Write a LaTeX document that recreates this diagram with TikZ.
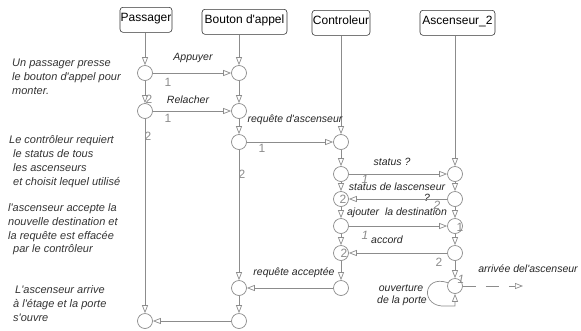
\documentclass[tikz,border=0pt]{standalone}
\usepackage{fontspec}
\setmainfont{Liberation Sans}[Ligatures=TeXOff]
\usetikzlibrary{arrows.meta}
\definecolor{lncol}{HTML}{8C8C8C}
\definecolor{notecol}{HTML}{333333}
\tikzset{
  ln/.style={draw=lncol, line width=0.7pt},
  arr/.style={ln, -{Triangle[open,length=8pt,width=6pt]}},
  ev/.style={circle, draw=lncol, line width=0.7pt, fill=white, minimum size=15pt, inner sep=0pt},
  hdr/.style={draw=black!80, rounded corners=3pt, line width=0.6pt, inner xsep=0pt, inner ysep=1.5pt,
    text height=12.5pt, text depth=9.5pt, font=\fontsize{12}{14}\selectfont, anchor=north},
  msg/.style={font=\fontsize{10.5}{12}\itshape\selectfont, text=black!85, inner sep=0pt},
  note/.style={font=\fontsize{11}{13}\itshape\selectfont, text=notecol, inner sep=0pt, anchor=base west},
  num/.style={font=\fontsize{12}{14}\selectfont, text=lncol, inner sep=0pt},
  inum/.style={font=\fontsize{12}{14}\itshape\selectfont, text=lncol, inner sep=0pt},
}
\begin{document}
\begin{tikzpicture}[x=1pt,y=-1pt]
\useasboundingbox (0,0) rectangle (581,330);
% headers
\node[hdr, minimum width=52pt] (hP) at (146,7) {Passager};
\node[hdr, minimum width=85pt] (hB) at (244.5,9) {Bouton d'appel};
\node[hdr, minimum width=58pt] (hC) at (341,10) {Controleur};
\node[hdr, minimum width=75pt] (hA) at (457.5,10) {Ascenseur\_2};
% events
\node[ev] (p1) at (145,73) {};
\node[ev] (p2) at (145,111) {};
\node[ev] (p3) at (145,321) {};
\node[ev] (b1) at (239,73) {};
\node[ev] (b2) at (239,111) {};
\node[ev] (b3) at (239,142) {};
\node[ev] (b4) at (239,288) {};
\node[ev] (b5) at (239,321) {};
\node[ev] (c1) at (341,142) {};
\node[ev] (c2) at (341,174) {};
\node[ev] (c3) at (341,199) {};
\node[ev] (c4) at (341,226) {};
\node[ev] (c5) at (341,253) {};
\node[ev] (c6) at (341,288) {};
\node[ev] (a1) at (455,174) {};
\node[ev] (a2) at (455,199) {};
\node[ev] (a3) at (455,226) {};
\node[ev] (a4) at (455,253) {};
\node[ev] (a5) at (455,286) {};
\coordinate (ae) at (523,286);
% lifelines
\draw[arr] (hP.south -| p1) -- (p1);
\draw[arr] (p1) -- (p2);
\draw[arr] (p2) -- (p3);
\draw[arr] (hB.south -| b1) -- (b1);
\draw[arr] (b1) -- (b2);
\draw[arr] (b2) -- (b3);
\draw[arr] (b3) -- (b4);
\draw[arr] (b4) -- (b5);
\draw[arr] (hC.south -| c1) -- (c1);
\draw[arr] (c1) -- (c2);
\draw[arr] (c2) -- (c3);
\draw[arr] (c3) -- (c4);
\draw[arr] (c4) -- (c5);
\draw[arr] (c5) -- (c6);
\draw[arr] (hA.south -| a1) -- (a1);
\draw[arr] (a1) -- (a2);
\draw[arr] (a2) -- (a3);
\draw[arr] (a3) -- (a4);
\draw[arr] (a4) -- (a5);
% messages
\draw[arr] (p1) -- (b1);
\draw[arr] (p2) -- (b2);
\draw[arr] (b3) -- (c1);
\draw[arr] (c2) -- (a1);
\draw[arr] (a2) -- (c3);
\draw[arr] (c4) -- (a3);
\draw[arr] (a4) -- (c5);
\draw[arr] (c6) -- (b4);
\draw[arr] (b5) -- (p3);
\draw[arr, dash pattern=on 13pt off 10pt] (a5) -- (ae);
\draw[arr] (a5.155) .. controls (422,274) and (420,308) .. (446,306) -- (455,306) -- (a5.south);
% message labels
\node[msg] (lAp) at (193,58) {Appuyer};
\node[msg] (lRe) at (188,100) {Relacher};
\node[msg] (lRq) at (295,120) {requête d'ascenseur};
\node[msg] (lSt) at (392,162) {status ?};
\node[msg] (lSd) at (397,187) {status de lascenseur};
\node[msg] (lQ) at (427,198) {?};
\node[msg] (lAj) at (397,213) {ajouter\ \ la destination};
\node[msg] (lAc) at (387,240) {accord};
\node[msg] (lRa) at (294,273) {requête acceptée};
\node[msg] (lAr) at (528,269) {arrivée del'ascenseur};
\node[msg] (lOu) at (401,288) {ouverture};
\node[msg] (lPo) at (402,301) {de la porte};
% numbers
\node[num] (n1) at (168,82) {1};
\node[num] (n2) at (149,99) {2};
\node[num] (n3) at (168,118) {1};
\node[num] (n4) at (148,136) {2};
\node[num] (n5) at (262,148) {1};
\node[num] (n6) at (242,174) {2};
\node[inum] (n7) at (365,179) {1};
\node[num] (n8) at (343,199) {2};
\node[inum] (n9) at (437,205) {2};
\node[num] (n10) at (460,227) {1};
\node[inum] (n11) at (365,235) {1};
\node[num] (n12) at (344,253) {2};
\node[num] (n13) at (439,262) {2};
\node[inum] (n14) at (461,279) {1};
% notes
\node[note] (t1) at (12,66.5) {Un passager presse};
\node[note] (t2) at (12,80.5) {le bouton d'appel pour};
\node[note] (t3) at (12,94.5) {monter.};
\node[note] (t4) at (9,143.5) {Le contrôleur requiert};
\node[note] (t5) at (13,157) {le status de tous};
\node[note] (t6) at (13,171) {les ascenseurs};
\node[note] (t7) at (13,185) {et choisit lequel utilisé};
\node[note] (t8) at (8,211.5) {l'ascenseur accepte la};
\node[note] (t9) at (8,225.5) {nouvelle destination et};
\node[note] (t10) at (8,239) {la requête est effacée};
\node[note] (t11) at (13,252) {par le contrôleur};
\node[note] (t12) at (15,293.5) {L'ascenseur arrive};
\node[note] (t13) at (13,307) {à l'étage et la porte};
\node[note] (t14) at (13,321) {s'ouvre};
\end{tikzpicture}
\end{document}
